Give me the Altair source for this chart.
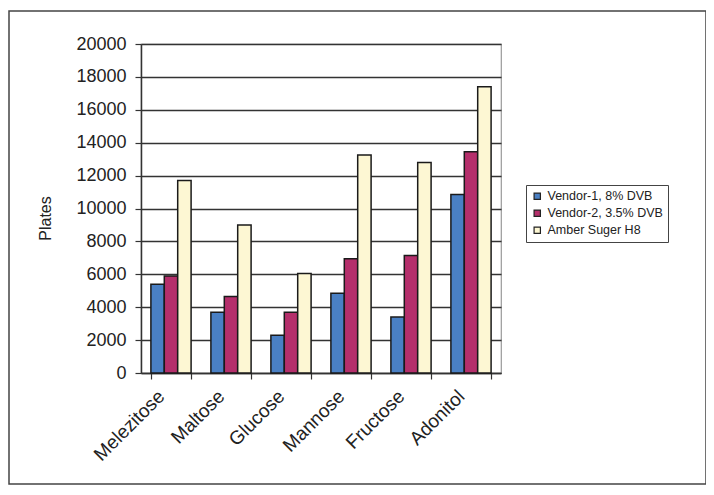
import altair as alt
import pandas as pd

categories = ["Melezitose", "Maltose", "Glucose", "Mannose", "Fructose", "Adonitol"]
series = ["Vendor-1, 8% DVB", "Vendor-2, 3.5% DVB", "Amber Suger H8"]
vendor1 = [5400, 3700, 2300, 4850, 3400, 10850]
vendor2 = [5900, 4650, 3700, 6950, 7150, 13450]
amber = [11700, 9000, 6050, 13250, 12800, 17400]
colors = ["#4a80c4", "#b52f6b", "#fdf7d3"]

rows = []
for i, c in enumerate(categories):
    for s, vals in zip(series, [vendor1, vendor2, amber]):
        rows.append({"Sugar": c, "Series": s, "Plates": vals[i]})
df = pd.DataFrame(rows)

FONT = "Liberation Sans"

bars = alt.Chart(df).mark_bar(stroke="#1a1a1a", strokeWidth=1.5).encode(
    x=alt.X("Sugar:N", sort=categories,
            scale=alt.Scale(paddingInner=0.33, paddingOuter=0.165),
            axis=alt.Axis(title=None, labelAngle=-45, labelAlign="right",
                          labelBaseline="middle", labelPadding=14, labelOffset=-10,
                          tickBand="extent", tickSize=6, tickColor="#333",
                          domainColor="#333", domainWidth=1.5, tickWidth=1.2,
                          labelFontSize=19, labelColor="#222", labelFont=FONT,
                          grid=False)),
    xOffset=alt.XOffset("Series:N", sort=series, scale=alt.Scale(paddingInner=0, paddingOuter=0)),
    y=alt.Y("Plates:Q",
            scale=alt.Scale(domain=[0, 20000], nice=False),
            axis=alt.Axis(values=list(range(0, 20001, 2000)), format="d", tickSize=6,
                          tickColor="#333", domainColor="#333", domainWidth=1.5,
                          tickWidth=1.2, labelPadding=9, labelFontSize=18,
                          labelColor="#222", labelFont=FONT,
                          gridColor="#333", gridWidth=1.5,
                          title="Plates", titleFontSize=16, titleFont=FONT,
                          titleFontWeight="normal", titleColor="#222",
                          titleX=-96, titleY=174, titleAlign="center",
                          titleBaseline="middle", titleAngle=-90)),
    color=alt.Color("Series:N", sort=series,
                    scale=alt.Scale(domain=series, range=colors),
                    legend=alt.Legend(title=None, orient="none", legendX=385, legendY=141,
                                      symbolType="square", symbolSize=40,
                                      symbolStrokeColor="#222", symbolStrokeWidth=1.2,
                                      labelFontSize=12.5, labelFont=FONT, labelColor="#222",
                                      strokeColor="#444", padding=5, rowPadding=4,
                                      labelOffset=4, fillColor="white")),
)

frame = alt.Chart(alt.Data(values=[{"a": 1}])).mark_rect(
    fill=None, stroke="#444", strokeWidth=1.5
).encode(
    x=alt.value(-132), x2=alt.value(565), y=alt.value(-33), y2=alt.value(440)
)

chart = alt.layer(frame, bars).properties(
    width=360, height=329,
    autosize=alt.AutoSizeParams(type="none"),
    padding={"left": 133, "top": 36, "right": 205, "bottom": 114},
).configure_view(stroke="#999", strokeWidth=1.2)

chart.save("out.html", embed_options={"renderer": "svg", "actions": False})
